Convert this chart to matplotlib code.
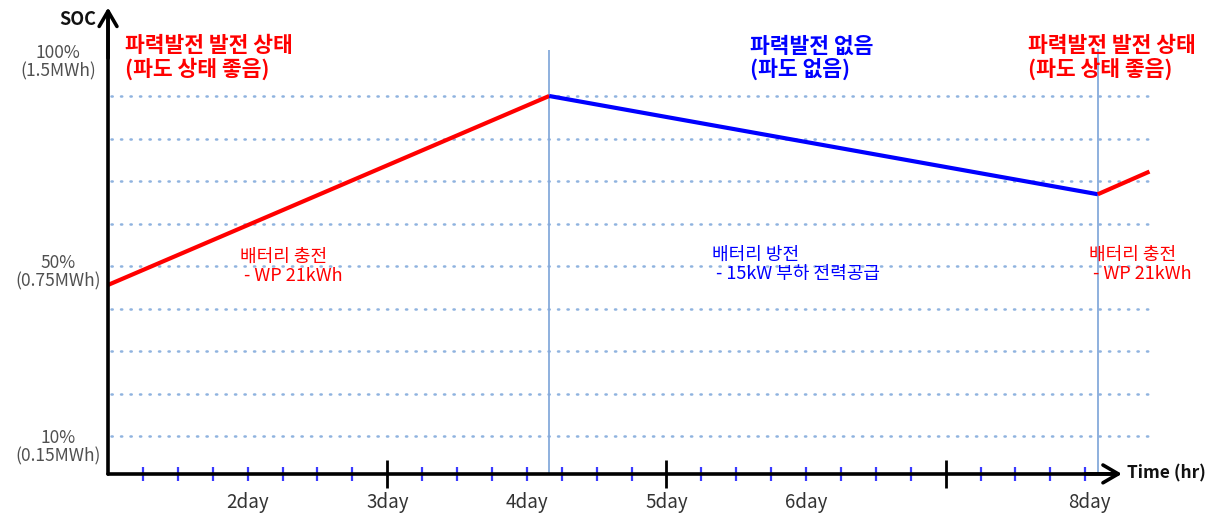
import matplotlib
matplotlib.use("Agg")
import matplotlib.pyplot as plt
import numpy as np
from matplotlib.ticker import FixedLocator

plt.rcParams['font.family'] = ['Noto Sans CJK KR', 'DejaVu Sans']

# ---- data ----
charge1_t = [1.0, 4.16]
charge1_soc = [50, 100]
discharge_t = [4.16, 8.09]
discharge_soc = [100, 74]
charge2_t = [8.09, 8.46]
charge2_soc = [74, 80]

grid_levels = [100, 88.75, 77.5, 66.25, 55, 43.75, 32.5, 21.25, 10]
phase_boundaries = [4.16, 8.09]

day_ticks = [2, 3, 4, 5, 6, 8]
day_labels = ["2day", "3day", "4day", "5day", "6day", "8day"]
major_days = [3, 5, 7]

soc_label_pos = [109, 53.3, 7.0]
soc_labels = ["100%\n(1.5MWh)", "50%\n(0.75MWh)", "10%\n(0.15MWh)"]

RED = "#ff0000"
BLUE = "#0000ff"
GRIDC = "#8fb3df"
VLC = "#86aadb"

fig = plt.figure(figsize=(12.19, 5.2), dpi=100)
ax = fig.add_axes([0, 0, 1, 1])
ax.set_xlim(0.226, 8.958)
ax.set_ylim(-12.2, 125.4)

# grid
gl = ax.hlines(grid_levels, 1.02, 8.45, colors=GRIDC, lw=1.8,
               linestyles=(0, (0.5, 3.3)))
gl.set_capstyle('round')

# phase boundaries
ax.vlines(phase_boundaries[0], 0, 112.2, colors=VLC, lw=1.3)
ax.vlines(phase_boundaries[1], 0, 112.5, colors=VLC, lw=1.3)

# SOC lines
ax.plot(charge1_t, charge1_soc, color=RED, lw=3.0, solid_capstyle='butt', zorder=5)
ax.plot(discharge_t, discharge_soc, color=BLUE, lw=3.0, solid_capstyle='butt', zorder=5)
ax.plot(charge2_t, charge2_soc, color=RED, lw=3.0, solid_capstyle='butt', zorder=5)

# axes spines as arrows
for s in ['top', 'right']:
    ax.spines[s].set_visible(False)
ax.spines['bottom'].set_position(('data', 0))
ax.spines['left'].set_position(('data', 1.0))
ax.spines['bottom'].set_bounds(1.0, 8.2)
ax.spines['left'].set_bounds(0, 121)
ax.spines['bottom'].set_linewidth(2.6)
ax.spines['left'].set_linewidth(2.6)
ax.spines['bottom'].set_capstyle('round')
ax.spines['left'].set_capstyle('round')
ax.spines['bottom'].set_zorder(6)
ax.spines['left'].set_zorder(6)

ax.annotate('', xy=(8.262, 0), xytext=(8.0, 0),
            arrowprops=dict(arrowstyle='->,head_length=0.55,head_width=0.32',
                            lw=2.6, color='black', mutation_scale=20,
                            shrinkA=0, shrinkB=0), zorder=7)
ax.annotate('', xy=(1.0, 123.4), xytext=(1.0, 110),
            arrowprops=dict(arrowstyle='->,head_length=0.55,head_width=0.32',
                            lw=2.6, color='black', mutation_scale=20,
                            shrinkA=0, shrinkB=0), zorder=7)

# ticks
ax.set_yticks([])
ax.xaxis.set_major_locator(FixedLocator(major_days))
minor = [q for q in np.arange(1.25, 8.01, 0.25) if not any(abs(q - m) < 1e-6 for m in major_days)]
ax.xaxis.set_minor_locator(FixedLocator(minor))
ax.tick_params(axis='x', which='major', direction='inout', length=20, width=2.0,
               color='black', labelbottom=False)
ax.tick_params(axis='x', which='minor', direction='inout', length=10, width=1.6,
               color='#3a3aff')

for d, lab in zip(day_ticks, day_labels):
    ax.text(d + (0.03 if d == 8 else 0), -7.7, lab, ha='center', va='center',
            fontsize=13.5, color='#333333')

for y, lab in zip(soc_label_pos, soc_labels):
    ax.text(0.64, y, lab, ha='center', va='center', fontsize=12.5,
            color='#505050', linespacing=1.05)

ax.text(0.915, 120.2, "SOC", ha='right', va='center', fontsize=13,
        fontweight='bold', color='#111111')
ax.text(8.30, 0, "Time (hr)", ha='left', va='center', fontsize=12.5,
        fontweight='bold', color='#111111')

# phase headers
ax.text(1.122, 110.1, "파력발전 발전 상태\n(파도 상태 좋음)", ha='left', va='center',
        fontsize=15.5, fontweight='bold', color=RED, linespacing=1.08)
ax.text(5.599, 110.1, "파력발전 없음\n(파도 없음)", ha='left', va='center',
        fontsize=15.5, fontweight='bold', color=BLUE, linespacing=1.08)
ax.text(7.59, 110.1, "파력발전 발전 상태\n(파도 상태 좋음)", ha='left', va='center',
        fontsize=15.5, fontweight='bold', color=RED, linespacing=1.08)

# annotations
ax.text(1.946, 55.0, "배터리 충전\n - WP 21kWh", ha='left', va='center',
        fontsize=13, color=RED, linespacing=1.1)
ax.text(5.327, 55.5, "배터리 방전\n - 15kW 부하 전력공급", ha='left', va='center',
        fontsize=13, color=BLUE, linespacing=1.1)
ax.text(8.03, 55.5, "배터리 충전\n - WP 21kWh", ha='left', va='center',
        fontsize=13, color=RED, linespacing=1.1)

fig.savefig("out.png", dpi=100)
